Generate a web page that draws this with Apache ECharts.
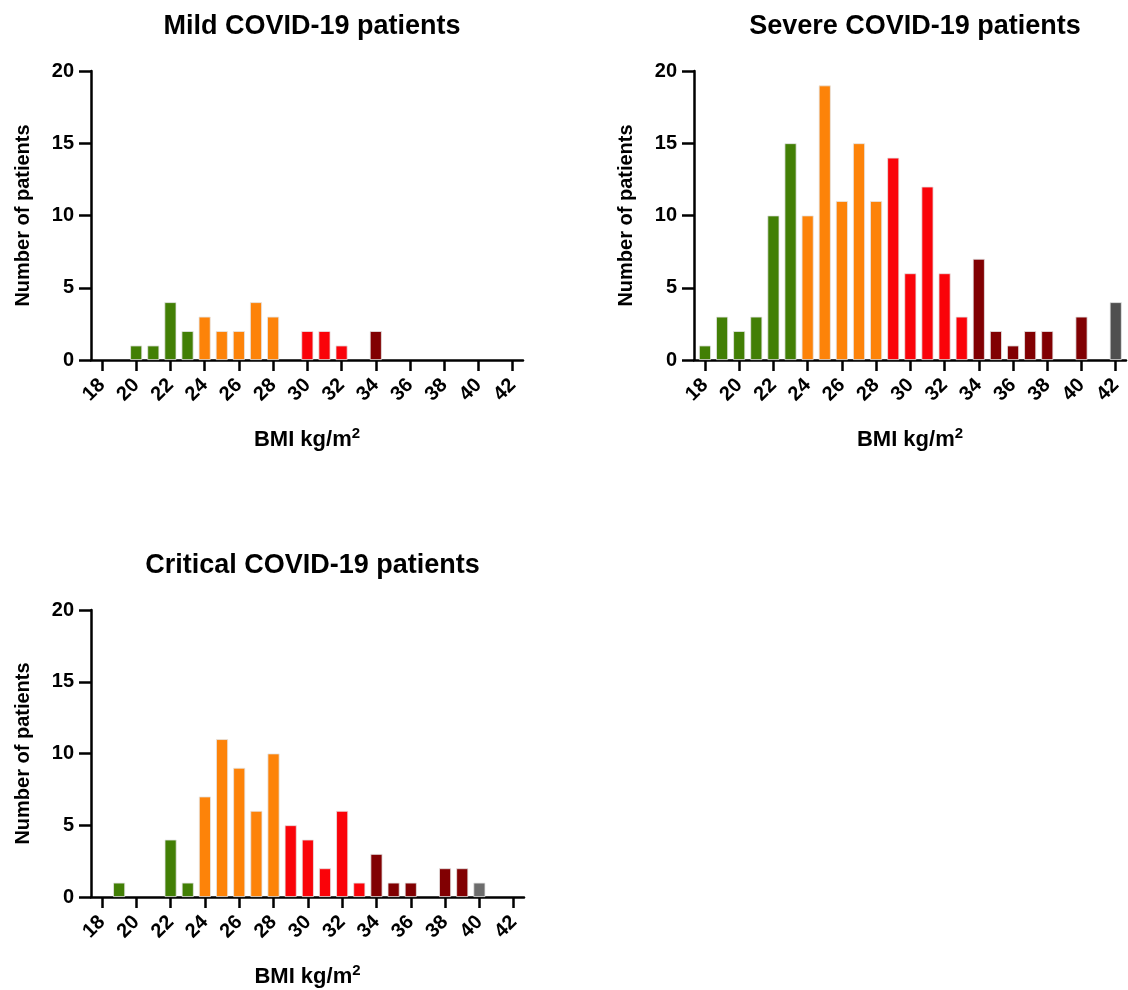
<!DOCTYPE html>
<html>
<head>
<meta charset="utf-8">
<script src="https://cdn.jsdelivr.net/npm/echarts@6/dist/echarts.min.js"></script>
<style>
  html, body { margin: 0; padding: 0; background: #fff; }
  #main { width: 1128px; height: 990px; }
</style>
</head>
<body>
<div id="main"></div>
<script>
// BMI bins (kg/m2) and patient counts
var mildBmi = [20, 21, 22, 23, 24, 25, 26, 27, 28, 30, 31, 32, 34];
var mildCount = [1, 1, 4, 2, 3, 2, 2, 4, 3, 2, 2, 1, 2];
var mildClass = ['n', 'n', 'n', 'n', 'o', 'o', 'o', 'o', 'o', 'r', 'r', 'r', 'd'];

var severeBmi = [18, 19, 20, 21, 22, 23, 24, 25, 26, 27, 28, 29, 30, 31, 32, 33, 34, 35, 36, 37, 38, 40, 42];
var severeCount = [1, 3, 2, 3, 10, 15, 10, 19, 11, 15, 11, 14, 6, 12, 6, 3, 7, 2, 1, 2, 2, 3, 4];
var severeClass = ['n', 'n', 'n', 'n', 'n', 'n', 'o', 'o', 'o', 'o', 'o', 'r', 'r', 'r', 'r', 'r', 'd', 'd', 'd', 'd', 'd', 'd', 'g'];

var criticalBmi = [19, 22, 23, 24, 25, 26, 27, 28, 29, 30, 31, 32, 33, 34, 35, 36, 38, 39, 40];
var criticalCount = [1, 4, 1, 7, 11, 9, 6, 10, 5, 4, 2, 6, 1, 3, 1, 1, 2, 2, 1];
var criticalClass = ['n', 'n', 'n', 'o', 'o', 'o', 'o', 'o', 'r', 'r', 'r', 'r', 'r', 'd', 'd', 'd', 'd', 'd', 'g2'];

var xTicks = [18, 20, 22, 24, 26, 28, 30, 32, 34, 36, 38, 40, 42];
var titles = ['Mild COVID-19 patients', 'Severe COVID-19 patients', 'Critical COVID-19 patients'];

var colors = {
  n: '#427f05',
  o: '#fd8309',
  r: '#fa0309',
  d: '#810002',
  g: '#4f4f4f',
  g2: '#6d6d6d'
};

var FONT = '"Liberation Sans", Arial, sans-serif';

var chart = echarts.init(document.getElementById('main'));

var grids = [
  {left: 91, top: 71, width: 432, height: 289},
  {left: 694, top: 71, width: 432, height: 289},
  {left: 91, top: 610, width: 433, height: 287}
];

function makeData(xs, ys, cls) {
  var out = [];
  for (var i = 0; i < xs.length; i++) {
    out.push({
      value: [xs[i], ys[i]],
      itemStyle: {color: colors[cls[i]]}
    });
  }
  return out;
}

var xAxes = [], yAxes = [], series = [], titleList = [];
for (var k = 0; k < 3; k++) {
  var g = grids[k];
  titleList.push({
    text: titles[k],
    left: g.left + g.width / 2,
    top: g.top - 63,
    textAlign: 'center',
    textStyle: {fontFamily: FONT, fontWeight: 'bold', fontSize: 27, color: '#000'}
  });
  xAxes.push({
    gridIndex: k,
    type: 'value',
    min: 17.36,
    max: 42.6,
    name: 'BMI kg/m{sup|2}',
    nameLocation: 'middle',
    nameGap: 66,
    nameTextStyle: {
      fontFamily: FONT, fontWeight: 'bold', fontSize: 22, color: '#000',
      rich: {sup: {fontFamily: FONT, fontWeight: 'bold', fontSize: 15, verticalAlign: 'top', padding: [0, 0, 12, 0]}}
    },
    splitLine: {show: false},
    axisLine: {onZero: false, lineStyle: {color: '#000', width: 2.5}},
    axisTick: {customValues: xTicks, length: 11, lineStyle: {color: '#000', width: 2.5}},
    axisLabel: {
      customValues: xTicks,
      rotate: 45,
      margin: 22,
      fontFamily: FONT, fontWeight: 'bold', fontSize: 20, color: '#000'
    }
  });
  yAxes.push({
    gridIndex: k,
    type: 'value',
    min: 0,
    max: 20,
    interval: 5,
    name: 'Number of patients',
    nameLocation: 'middle',
    nameGap: 58,
    nameTextStyle: {fontFamily: FONT, fontWeight: 'bold', fontSize: 20, color: '#000'},
    splitLine: {show: false},
    axisLine: {show: true, lineStyle: {color: '#000', width: 2.5}},
    axisTick: {show: true, length: 12, lineStyle: {color: '#000', width: 2.5}},
    axisLabel: {margin: 17, fontFamily: FONT, fontWeight: 'bold', fontSize: 20, color: '#000'}
  });
}

series.push({
  type: 'bar', xAxisIndex: 0, yAxisIndex: 0, barWidth: 12,
  itemStyle: {borderColor: '#e6e6e6', borderWidth: 0.8},
  data: makeData(mildBmi, mildCount, mildClass)
});
series.push({
  type: 'bar', xAxisIndex: 1, yAxisIndex: 1, barWidth: 12,
  itemStyle: {borderColor: '#e6e6e6', borderWidth: 0.8},
  data: makeData(severeBmi, severeCount, severeClass)
});
series.push({
  type: 'bar', xAxisIndex: 2, yAxisIndex: 2, barWidth: 12,
  itemStyle: {borderColor: '#e6e6e6', borderWidth: 0.8},
  data: makeData(criticalBmi, criticalCount, criticalClass)
});

chart.setOption({
  animation: false,
  backgroundColor: '#fff',
  title: titleList,
  grid: grids,
  xAxis: xAxes,
  yAxis: yAxes,
  series: series
});
</script>
</body>
</html>
